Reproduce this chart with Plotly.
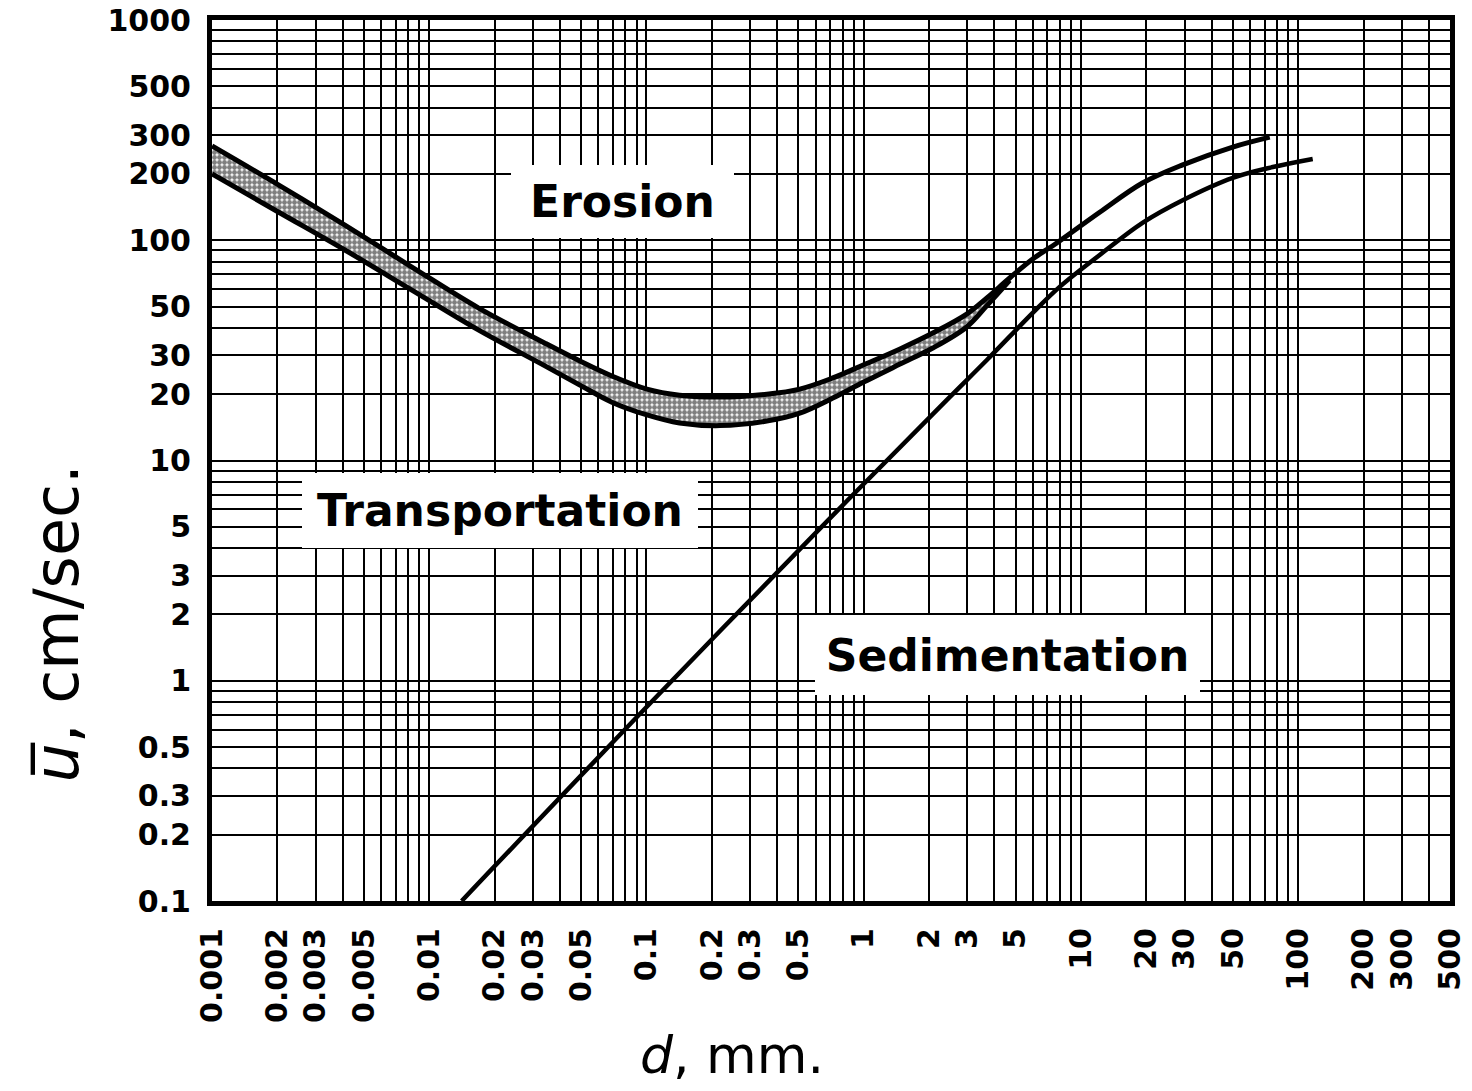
import numpy as np
import plotly.graph_objects as go

# Grain diameter d (mm) and mean velocity u (cm/s)
erosion_upper_d = [0.001, 0.00203, 0.00409, 0.00832, 0.0169, 0.0341, 0.0494, 0.0693,
                   0.1005, 0.142, 0.218, 0.358, 0.508, 0.721, 1.0, 1.47, 2.08, 2.98,
                   3.69, 4.70, 6.0, 7.74, 12.2, 19.2, 29.4, 50, 74]
erosion_upper_u = [268, 178, 117, 75.6, 49.2, 34.1, 28.3, 24.2,
                   21.1, 19.8, 19.4, 20.0, 21.1, 23.7, 27.2, 32.1, 37.9, 46.2,
                   54.7, 67.4, 82.2, 97.2, 134, 182, 220, 265, 294]

erosion_lower_d = [0.001, 0.00203, 0.00409, 0.00832, 0.0169, 0.0341, 0.0494, 0.0693,
                   0.1005, 0.142, 0.218, 0.358, 0.508, 0.721, 1.0, 1.47, 2.08, 2.98,
                   3.69, 4.70]
erosion_lower_u = [200, 134, 90.3, 59.4, 39.1, 26.9, 22.0, 18.4,
                   16.1, 14.8, 14.4, 15.1, 16.4, 19.2, 22.7, 27.4, 32.4, 40.4,
                   50.5, 65.8]

sedim_d = [0.0141, 0.104, 0.863, 2.41, 3.69, 6.0, 7.98, 12.2, 19.2, 29.4, 50, 76.4, 116.7]
sedim_u = [0.1, 0.79, 6.76, 18.8, 28.6, 46.8, 61.4, 85.7, 120, 152, 192, 215, 234]

# Axis tick labels
x_ticks = [0.001, 0.002, 0.003, 0.005, 0.01, 0.02, 0.03, 0.05, 0.1, 0.2, 0.3, 0.5,
           1, 2, 3, 5, 10, 20, 30, 50, 100, 200, 300, 500]
x_labels = ["0.001", "0.002", "0.003", "0.005", "0.01", "0.02", "0.03", "0.05",
            "0.1", "0.2", "0.3", "0.5", "1", "2", "3", "5", "10", "20", "30", "50",
            "100", "200", "300", "500"]
y_ticks = [0.1, 0.2, 0.3, 0.5, 1, 2, 3, 5, 10, 20, 30, 50, 100, 200, 300, 500, 1000]
y_labels = ["0.1", "0.2", "0.3", "0.5", "1", "2", "3", "5", "10", "20", "30", "50",
            "100", "200", "300", "500", "1000"]

# Log-paper grid: 1..9 in every decade
x_grid = [m * 10.0 ** e for e in range(-3, 3) for m in range(1, 10) if m * 10.0 ** e <= 500]
y_grid = [m * 10.0 ** e for e in range(-1, 3) for m in range(1, 10)] + [1000]

curve_line = dict(color="black", width=5, shape="spline", smoothing=1.0)

fig = go.Figure()

# Stippled erosion band between the two erosion curves
n_band = len(erosion_lower_d)
band_x = erosion_upper_d[:n_band] + erosion_lower_d[::-1]
band_y = erosion_upper_u[:n_band] + erosion_lower_u[::-1]
fig.add_trace(go.Scatter(
    x=band_x, y=band_y, mode="lines", fill="toself",
    line=dict(width=0, color="rgba(0,0,0,0)", shape="spline", smoothing=1.0),
    fillcolor="white",
    fillpattern=dict(shape=".", fgcolor="black", bgcolor="white", size=5, solidity=0.75),
    hoverinfo="skip", showlegend=False))

fig.add_trace(go.Scatter(x=erosion_lower_d, y=erosion_lower_u, mode="lines",
                         line=curve_line, showlegend=False))
fig.add_trace(go.Scatter(x=erosion_upper_d, y=erosion_upper_u, mode="lines",
                         line=curve_line, showlegend=False))
fig.add_trace(go.Scatter(x=sedim_d, y=sedim_u, mode="lines",
                         line=dict(color="black", width=4.5, shape="spline", smoothing=1.0),
                         showlegend=False))

tick_font = dict(family="DejaVu Sans", size=30, color="black", weight="bold")
label_font = dict(family="DejaVu Sans", size=44, color="black", weight="bold")
grid_style = dict(showgrid=True, gridcolor="black", gridwidth=2, ticks="")

fig.update_xaxes(
    type="log", range=[-3, np.log10(500)], automargin=False,
    showline=True, linewidth=5, linecolor="black", mirror=True,
    showgrid=True, gridcolor="black", gridwidth=2,
    tickmode="array", tickvals=x_ticks, ticktext=x_labels,
    tickangle=-90, ticks="", ticklabelstandoff=10, tickfont=tick_font,
    minor=dict(tickmode="array", tickvals=x_grid, **grid_style),
    zeroline=False,
)
fig.update_yaxes(
    type="log", range=[-1, 3], automargin=False,
    showline=True, linewidth=5, linecolor="black", mirror=True,
    showgrid=True, gridcolor="black", gridwidth=2,
    tickmode="array", tickvals=y_ticks, ticktext=y_labels,
    ticks="", ticklabelstandoff=10, tickfont=tick_font,
    minor=dict(tickmode="array", tickvals=y_grid, **grid_style),
    zeroline=False,
)

# Region labels on white panels that interrupt the grid
regions = [
    ("Erosion", -1.109, 2.178, 223, 73),
    ("Transportation", -1.675, 0.775, 396, 75),
    ("Sedimentation", 0.663, 0.117, 385, 80),
]
for text, lx, ly, w, h in regions:
    fig.add_annotation(
        x=lx, y=ly, xref="x", yref="y", text=text, showarrow=False,
        font=label_font, bgcolor="white", width=w, height=h,
        borderpad=0, borderwidth=0, xanchor="center", yanchor="middle")

# Axis titles
fig.add_annotation(
    x=-0.126, y=0.315, xref="paper", yref="paper",
    text="<i>u\u0305</i>, cm/sec.", showarrow=False, textangle=-90,
    font=dict(family="DejaVu Sans", size=62, color="black"),
    xanchor="center", yanchor="middle")
fig.add_annotation(
    x=0.42, y=-0.175, xref="paper", yref="paper",
    text="<i>d</i>, mm.", showarrow=False,
    font=dict(family="DejaVu Sans", size=52, color="black"),
    xanchor="center", yanchor="middle")

fig.update_layout(
    width=1472, height=1091, autosize=False,
    margin=dict(l=212, r=22, t=20, b=190),
    paper_bgcolor="white", plot_bgcolor="white",
    showlegend=False,
)

fig.write_html("out.html")
